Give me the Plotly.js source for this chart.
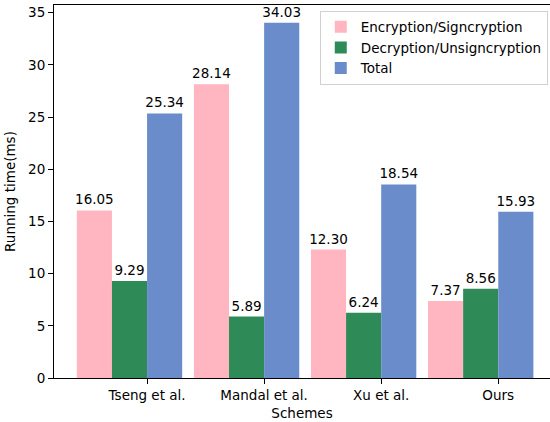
<!DOCTYPE html>
<html>
<head>
<meta charset="utf-8">
<script src="https://cdn.plot.ly/plotly-3.0.1.min.js"></script>
<style>
html, body { margin: 0; padding: 0; overflow: hidden; background: #fff; }
#chart { width: 550px; height: 422px; }
</style>
</head>
<body>
<div id="chart"></div>
<script>
const schemes = ["Tseng et al.", "Mandal et al.", "Xu et al.", "Ours"];
const encryption = [16.05, 28.14, 12.30, 7.37];
const decryption = [9.29, 5.89, 6.24, 8.56];
const total = [25.34, 34.03, 18.54, 15.93];
const seriesNames = ["Encryption/Signcryption", "Decryption/Unsigncryption", "Total"];
const yTicks = [0, 5, 10, 15, 20, 25, 30, 35];

const colors = ["#FFB6C1", "#2E8B57", "#6A8CCA"];
const offsets = [-0.6, -0.3, 0];
const seriesValues = [encryption, decryption, total];
const font = "DejaVu Sans, sans-serif";
const fs = 13.5;

const traces = seriesValues.map((vals, k) => ({
  type: "bar",
  x: schemes,
  y: vals,
  name: seriesNames[k],
  width: 0.3,
  offset: offsets[k],
  marker: { color: colors[k], line: { width: 0 } },
  texttemplate: "%{y:.2f}",
  textposition: "outside",
  constraintext: "none",
  textfont: { family: font, size: fs, color: "#000" },
  cliponaxis: false,
  hoverinfo: "x+y+name"
}));

const layout = {
  width: 550,
  height: 422,
  margin: { l: 54, r: 0, t: 5, b: 44 },
  paper_bgcolor: "#fff",
  plot_bgcolor: "#fff",
  font: { family: font, size: fs, color: "#000" },
  barmode: "overlay",
  showlegend: true,
  legend: {
    x: 0.9955, xanchor: "right",
    y: 0.985, yanchor: "top",
    bgcolor: "rgba(255,255,255,0.9)",
    bordercolor: "#d0d0d0",
    borderwidth: 1,
    font: { family: font, size: fs, color: "#000" }
  },
  xaxis: {
    type: "category",
    range: [-0.795, 3.442],
    showgrid: false,
    zeroline: false,
    showline: true,
    linecolor: "#000",
    linewidth: 1,
    mirror: true,
    ticks: "outside",
    ticklen: 5,
    tickcolor: "#000",
    tickfont: { family: font, size: fs, color: "#000" },
    title: { text: "Schemes", font: { family: font, size: fs, color: "#000" }, standoff: 6 }
  },
  yaxis: {
    range: [0, 35.73],
    tickvals: yTicks,
    showgrid: false,
    zeroline: false,
    showline: true,
    linecolor: "#000",
    linewidth: 1,
    mirror: false,
    ticks: "outside",
    ticklen: 5,
    tickcolor: "#000",
    tickfont: { family: font, size: fs, color: "#000" },
    title: { text: "Running time(ms)", font: { family: font, size: fs, color: "#000" }, standoff: 9 }
  }
};

Plotly.newPlot("chart", traces, layout, { displayModeBar: false, staticPlot: true });
</script>
</body>
</html>
